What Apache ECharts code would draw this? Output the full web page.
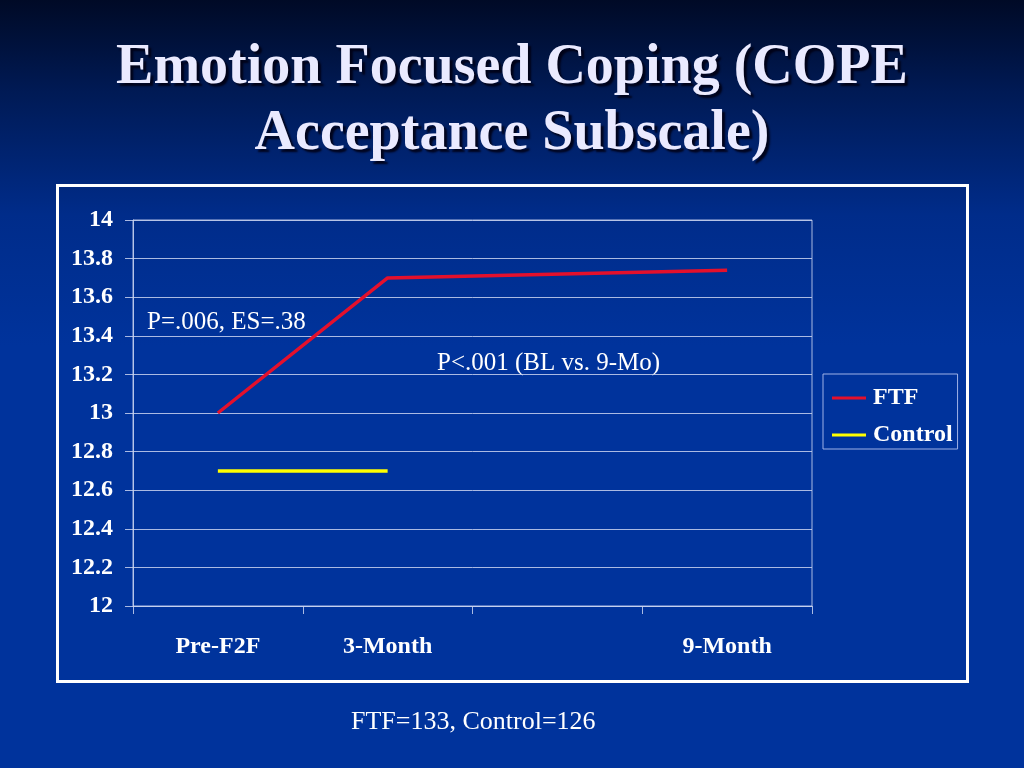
<!DOCTYPE html>
<html><head><meta charset="utf-8">
<script src="https://cdn.jsdelivr.net/npm/echarts@6/dist/echarts.min.js"></script>
<style>html,body{margin:0;padding:0;}#c{width:1024px;height:768px;}</style>
</head><body><div id="c"></div>
<script>
var categories = ['Pre-F2F', '3-Month', '', '9-Month'];
var ftfValues = [13.0, 13.7, null, 13.74];
var controlValues = [12.7, 12.7, null, null];
var yTicks = [12, 12.2, 12.4, 12.6, 12.8, 13, 13.2, 13.4, 13.6, 13.8, 14];

var chart = echarts.init(document.getElementById('c'));
var serif = '"Liberation Serif","Times New Roman",serif';
var gridColor = 'rgba(200,210,240,0.85)';
chart.setOption({
  backgroundColor: {
    type: 'linear', x: 0, y: 0, x2: 0, y2: 1,
    colorStops: [
      {offset: 0, color: '#000a26'},
      {offset: 0.12, color: '#001a55'},
      {offset: 0.28, color: '#002c8a'},
      {offset: 0.45, color: '#00339c'},
      {offset: 1, color: '#00339c'}
    ]
  },
  animation: false,
  title: {
    text: 'Emotion Focused Coping (COPE\nAcceptance Subscale)',
    left: 'center', top: 31,
    textStyle: {
      fontFamily: serif, fontWeight: 'bold', fontSize: 56, color: '#eaeaff',
      lineHeight: 66,
      textShadowColor: 'rgba(0,0,20,0.9)', textShadowOffsetX: 3, textShadowOffsetY: 3, textShadowBlur: 2
    }
  },
  legend: {
    orient: 'vertical', left: 823, top: 374,
    itemWidth: 34, itemHeight: 3, itemGap: 13,
    padding: [12, 5, 2, 9],
    borderColor: '#9fb2e6', borderWidth: 1,
    icon: 'rect',
    textStyle: {fontFamily: serif, fontWeight: 'bold', fontSize: 24, color: '#ffffff', padding: [0, 0, 0, 2]},
    data: ['FTF', 'Control']
  },
  grid: {left: 133, right: 212, top: 220, bottom: 162, show: true, borderColor: gridColor, borderWidth: 1},
  xAxis: {
    type: 'category', data: categories, boundaryGap: true,
    axisLine: {lineStyle: {color: gridColor, width: 1}},
    axisTick: {show: true, length: 8, lineStyle: {color: gridColor}},
    axisLabel: {fontFamily: serif, fontWeight: 'bold', fontSize: 24, color: '#ffffff', margin: 29, interval: 0}
  },
  yAxis: {
    type: 'value', min: 12, max: 14, interval: 0.2,
    axisLine: {show: true, lineStyle: {color: gridColor}},
    axisTick: {show: true, length: 8, lineStyle: {color: gridColor}},
    splitLine: {lineStyle: {color: gridColor, width: 1}},
    axisLabel: {fontFamily: serif, fontWeight: 'bold', fontSize: 24, color: '#ffffff', margin: 20,
      formatter: function (v) { return String(Math.round(v * 10) / 10); }}
  },
  series: [
    {name: 'FTF', type: 'line', data: ftfValues, connectNulls: true, symbol: 'none',
      lineStyle: {color: '#e4102c', width: 3.5}, itemStyle: {color: '#e4102c'}},
    {name: 'Control', type: 'line', data: controlValues, symbol: 'none',
      lineStyle: {color: '#ffff00', width: 3.5}, itemStyle: {color: '#ffff00'}}
  ],
  graphic: [
    {type: 'rect', left: 56, top: 184, shape: {width: 910, height: 496}, silent: true, z: -1,
      style: {fill: 'transparent', stroke: '#ffffff', lineWidth: 3}},
    {type: 'text', left: 147, top: 310, silent: true,
      style: {text: 'P=.006, ES=.38', font: '25px ' + serif, fill: '#ffffff'}},
    {type: 'text', left: 437, top: 351, silent: true,
      style: {text: 'P<.001 (BL vs. 9-Mo)', font: '25px ' + serif, fill: '#ffffff'}},
    {type: 'text', left: 351, top: 709, silent: true,
      style: {text: 'FTF=133, Control=126', font: '26px ' + serif, fill: '#ffffff'}}
  ]
});
</script></body></html>
